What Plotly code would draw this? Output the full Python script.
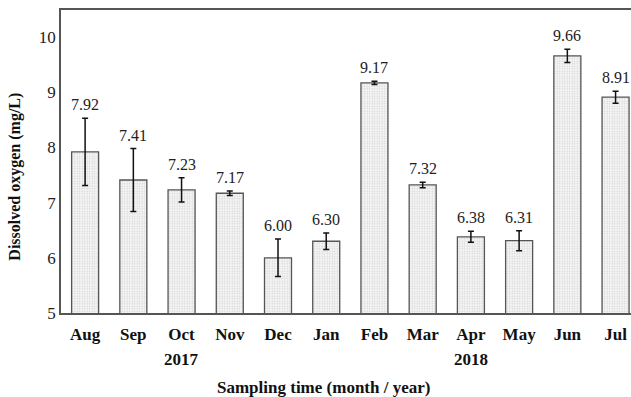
import plotly.graph_objects as go

months = ["Aug", "Sep", "Oct", "Nov", "Dec", "Jan", "Feb", "Mar", "Apr", "May", "Jun", "Jul"]
do_values = [7.92, 7.41, 7.23, 7.17, 6.00, 6.30, 9.17, 7.32, 6.38, 6.31, 9.66, 8.91]
do_errors = [0.61, 0.57, 0.22, 0.04, 0.34, 0.15, 0.03, 0.05, 0.10, 0.18, 0.12, 0.11]
year_labels = [("Oct", "2017"), ("Apr", "2018")]
x_title = "Sampling time (month / year)"
y_title = "Dissolved oxygen (mg/L)"

SERIF = "Liberation Serif, Times New Roman, serif"

fig = go.Figure()
fig.add_trace(go.Bar(
    x=months, y=do_values,
    width=0.56,
    marker=dict(
        color="white",
        line=dict(color="#555555", width=1.3),
        pattern=dict(shape=".", fgcolor="#b0b0b0", bgcolor="#f6f6f6", size=2.5, solidity=0.3),
    ),
    error_y=dict(type="data", array=do_errors, visible=True, color="#111111", thickness=1.5, width=3),
    showlegend=False,
))

annotations = []
for m, v, e in zip(months, do_values, do_errors):
    annotations.append(dict(
        x=m, y=v + e, xref="x", yref="y", text=f"{v:.2f}", showarrow=False,
        yanchor="bottom", yshift=3, font=dict(family=SERIF, size=16, color="#222222"),
    ))
for m, yr in year_labels:
    annotations.append(dict(
        x=m, y=0, xref="x", yref="paper", text=f"<b>{yr}</b>", showarrow=False,
        yanchor="middle", yshift=-46, font=dict(family=SERIF, size=17, color="#111111"),
    ))
# axis titles
annotations.append(dict(
    x=0.461, y=0, xref="paper", yref="paper", text=f"<b>{x_title}</b>", showarrow=False,
    xanchor="center", yanchor="middle", yshift=-74, font=dict(family=SERIF, size=17, color="#111111"),
))
annotations.append(dict(
    x=0, y=0.45, xref="paper", yref="paper", text=f"<b>{y_title}</b>", showarrow=False,
    textangle=-90, xanchor="center", yanchor="middle", xshift=-46,
    font=dict(family=SERIF, size=16, color="#111111"),
))

fig.update_layout(
    width=631, height=397,
    margin=dict(l=61, r=0, t=10, b=84),
    paper_bgcolor="white", plot_bgcolor="white",
    annotations=annotations,
    xaxis=dict(
        range=[-0.5, 11.32],
        showline=True, linecolor="#555555", linewidth=1.5, mirror=True,
        ticks="", showgrid=False, ticklabelstandoff=5,
        tickfont=dict(family=SERIF, size=17, color="#111111"),
        tickvals=months, ticktext=[f"<b>{m}</b>" for m in months],
    ),
    yaxis=dict(
        range=[5, 10.49],
        showline=True, linecolor="#555555", linewidth=1.5, mirror=False,
        ticks="", showgrid=False, zeroline=False,
        tickvals=[5, 6, 7, 8, 9, 10],
        tickfont=dict(family=SERIF, size=17, color="#222222"),
    ),
)

fig.write_html(
    "out.html",
    config={"displayModeBar": False},
    post_script="document.body.style.margin='0';document.body.style.overflow='hidden';",
)
